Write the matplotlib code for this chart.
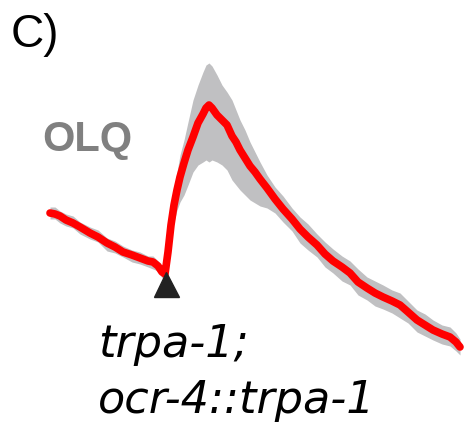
import matplotlib
matplotlib.use("Agg")
import matplotlib.pyplot as plt
import numpy as np

# OLQ calcium trace, trpa-1; ocr-4::trpa-1 animals
# time in frames, signal in arbitrary fluorescence units
frames = [0, 5, 10, 16, 23, 30, 40, 48, 57, 65, 73, 82, 90, 98, 103, 108, 112, 115,
          118, 121, 124, 127, 130, 134, 138, 143, 148, 153, 156, 159, 162, 167, 172, 177,
          182, 186, 190, 195, 200, 205, 210, 217,
          225, 233, 242, 250, 258, 267, 275, 283, 292, 300, 308, 317, 325, 333, 342, 350,
          358, 367, 375, 383, 392, 400, 406, 410]
mean_f = [167, 166, 164, 160, 157, 153, 147, 143, 137, 133, 128, 125, 122, 119, 118, 114, 108, 106,
          128, 155, 175, 190, 203, 217, 230, 243, 257, 266, 272, 275, 272, 265, 260, 255,
          244, 238, 230, 222, 214, 208, 201, 192,
          181, 171, 161, 151, 143, 135, 126, 119, 113, 107, 98, 92, 87, 83, 79, 75,
          68, 60, 55, 50, 46, 43, 38, 33]
sem_up = [6, 7, 5, 6, 7, 5, 6, 7, 5, 6, 6, 5, 6, 5, 6, 5, 5, 4,
          7, 12, 15, 18, 22, 23, 28, 37, 38, 42, 43, 42, 42, 40, 35, 33,
          36, 32, 30, 28, 24, 20, 17, 13,
          12, 13, 11, 12, 13, 11, 12, 12, 11, 12, 13, 11, 12, 12, 11, 12,
          11, 10, 11, 10, 9, 10, 9, 8]
sem_dn = [6, 5, 7, 6, 5, 7, 6, 5, 8, 6, 5, 7, 6, 6, 7, 5, 6, 4,
          10, 15, 17, 20, 25, 32, 35, 35, 42, 48, 52, 57, 52, 47, 45, 45,
          44, 43, 40, 37, 34, 31, 27, 20,
          14, 13, 12, 14, 13, 12, 13, 12, 14, 12, 13, 12, 13, 12, 12, 13,
          11, 12, 11, 10, 10, 9, 9, 8]
stim_frame = 116
stim_level = 96

t = np.array(frames)
m = np.array(mean_f)
up = m + np.array(sem_up)
dn = m - np.array(sem_dn)

fig = plt.figure(figsize=(4.65, 4.29), dpi=100)
ax = fig.add_axes([0, 0, 1, 1])
ax.set_xlim(-50, 415)
ax.set_ylim(-49, 380)
ax.axis("off")

ax.fill_between(t, dn, up, color="#c0c0c2", lw=0)
ax.plot(t, m, color="#ff0000", lw=5.5, solid_capstyle="round", solid_joinstyle="round")
ax.plot([stim_frame], [stim_level], marker="^", ms=18, color="#222222", mec="#222222")

fig.text(11 / 465, 1 - 47 / 429, "C)", fontsize=33, family="Liberation Sans", color="black")
fig.text(42 / 465, 1 - 151 / 429, "OLQ", fontsize=30, family="Liberation Sans",
         weight="bold", color="#808080")
fig.text(98 / 465, 1 - 357 / 429, "trpa-1;", fontsize=32, family="DejaVu Sans",
         style="italic", color="black")
fig.text(98 / 465, 1 - 413 / 429, "ocr-4::trpa-1", fontsize=32, family="DejaVu Sans",
         style="italic", color="black")

fig.savefig("out.png", dpi=100)
